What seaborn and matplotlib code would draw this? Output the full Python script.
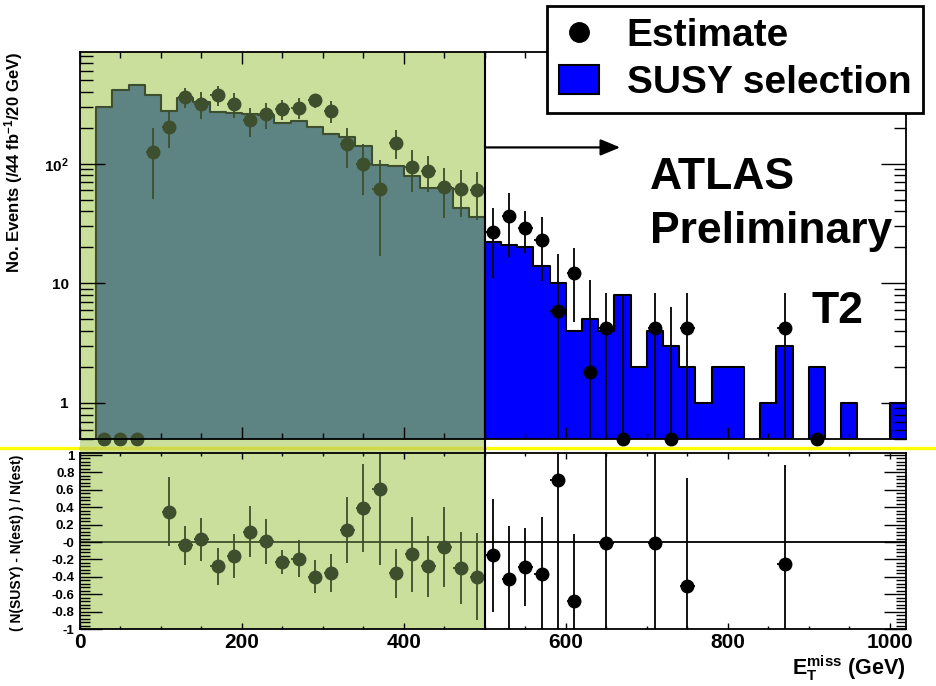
import numpy as np
import pandas as pd
import matplotlib
matplotlib.use("Agg")
import matplotlib.pyplot as plt
import seaborn as sns
from matplotlib.lines import Line2D
from matplotlib.patches import Patch, Rectangle
from matplotlib.ticker import FixedLocator, FixedFormatter, MultipleLocator, NullFormatter, LogLocator
from matplotlib.transforms import blended_transform_factory

# ---------------------------------------------------------------- data
bin_edges = np.arange(0, 1040, 20)            # E_T^miss bins, 20 GeV wide
bin_centers = bin_edges[:-1] + 10

# SUSY selection (events / 44 fb^-1 / 20 GeV)
susy_events = [0, 300, 415, 460, 376, 277, 355, 330, 269, 268,
               259, 258, 218, 228, 204, 177, 168, 141, 98, 96,
               79, 63, 63, 43, 36, 22, 21, 20, 14, 10,
               4, 5, 4, 8, 2, 4, 3, 2, 1, 2,
               2, 0, 1, 3, 0, 2, 0, 1, 0, 0, 1]

# data-driven estimate (NaN = no entry)
nan = np.nan
estimate = [nan, 0, 0, 0, 126, 204, 364, 318, 376, 316,
            232, 260, 287, 295, 339, 277, 145, 100, 62, 150,
            94, 87, 64, 62, 60, 27, 36.5, 29, 23, 5.9,
            12.3, 1.8, 4.2, 0, nan, 4.2, 0, 4.2, nan, nan,
            nan, nan, nan, 4.2, nan, 0, nan, nan, nan, nan, nan]
estimate_err = [nan, 0, 0, 0, 75, 68, 70, 80, 73, 75,
                63, 63, 55, 60, 45, 56, 53, 45, 45, 40,
                36, 29, 29, 26, 26, 16, 20, 11, 12.6, 11.6,
                7.5, 8.8, 4.1, 7.5, nan, 4.1, 5.9, 4.1, nan, nan,
                nan, nan, nan, 4.1, nan, 0, nan, nan, nan, nan, nan]

# ( N(SUSY) - N(est) ) / N(est)
ratio = [nan, nan, nan, nan, nan, 0.35, -0.04, 0.03, -0.28, -0.16,
         0.12, 0.01, -0.23, -0.19, -0.40, -0.36, 0.14, 0.39, 0.61, -0.36,
         -0.14, -0.28, -0.06, -0.30, -0.40, -0.15, -0.42, -0.29, -0.37, 0.71,
         -0.68, nan, -0.01, nan, nan, -0.01, nan, -0.51, nan, nan,
         nan, nan, nan, -0.25, nan, nan, nan, nan, nan, nan, nan]
ratio_err = [nan, nan, nan, nan, nan, 0.40, 0.22, 0.25, 0.21, 0.25,
             0.29, 0.26, 0.14, 0.21, 0.19, 0.22, 0.38, 0.51, 0.87, 0.28,
             0.43, 0.35, 0.46, 0.41, 0.50, 0.65, 0.60, 0.45, 0.66, 1.8,
             0.77, nan, 1.5, nan, nan, 1.5, nan, 1.25, nan, nan,
             nan, nan, nan, 1.14, nan, nan, nan, nan, nan, nan, nan]

x_tick_values = [0, 200, 400, 600, 800, 1000]
y_tick_values = [1, 10, 100]
y_tick_labels = ["1", "10", "$10^{2}$"]
r_tick_values = [-1, -0.8, -0.6, -0.4, -0.2, 0, 0.2, 0.4, 0.6, 0.8, 1]
r_tick_labels = ["-1", "-0.8", "-0.6", "-0.4", "-0.2", "-0", "0.2", "0.4", "0.6", "0.8", "1"]

control_edge = 500          # upper edge of the control region
arrow_y = 137
legend_labels = ["Estimate", "SUSY selection"]

# ---------------------------------------------------------------- style
sns.set_style("ticks")
plt.rcParams["font.family"] = ["Liberation Sans", "DejaVu Sans"]
plt.rcParams["font.weight"] = "bold"
plt.rcParams["axes.labelweight"] = "bold"
plt.rcParams["text.color"] = "black"
plt.rcParams["axes.labelcolor"] = "black"
plt.rcParams["xtick.color"] = "black"
plt.rcParams["ytick.color"] = "black"
plt.rcParams["axes.axisbelow"] = False
plt.rcParams["mathtext.fontset"] = "custom"
plt.rcParams["mathtext.rm"] = "Liberation Sans:bold"
plt.rcParams["mathtext.bf"] = "Liberation Sans:bold"
plt.rcParams["mathtext.it"] = "Liberation Sans:bold"
plt.rcParams["mathtext.default"] = "rm"

GREEN = "#c9df9b"
TEAL = "#5e8383"
OLIVE = "#3d4f2d"
BLUE = "#0000ff"

W, H = 936, 686
fig = plt.figure(figsize=(W / 100, H / 100), dpi=100)
fig.patch.set_facecolor("white")
ax_top = fig.add_axes([80 / W, 1 - 439 / H, 826 / W, 387 / H])
ax_bot = fig.add_axes([80 / W, 1 - 629 / H, 826 / W, 176 / H])

df = pd.DataFrame({"met": bin_centers, "susy": susy_events,
                   "est": estimate, "est_err": estimate_err,
                   "ratio": ratio, "ratio_err": ratio_err})
ctrl = df["met"] < control_edge
sig = ~ctrl
ctrl_bins = [float(b) for b in bin_edges if b <= control_edge]
sig_bins = [float(b) for b in bin_edges if b >= control_edge]

Y_MIN, Y_MAX = 0.5, 860

# ---------------------------------------------------------------- top panel
ax_top.axvspan(0, control_edge, color=GREEN, zorder=0, lw=0)
sns.histplot(data=df[ctrl], x="met", weights="susy",
             bins=ctrl_bins, element="step", fill=True,
             color=TEAL, alpha=1, edgecolor=OLIVE, linewidth=1.5, ax=ax_top, zorder=1)
sns.histplot(data=df[sig], x="met", weights="susy",
             bins=sig_bins, element="step", fill=True,
             color=BLUE, alpha=1, edgecolor="black", linewidth=1.5, ax=ax_top, zorder=1)
ax_top.set_yscale("log")


def draw_estimate(sub, color):
    sub = sub[sub["est"].notna()]
    y = np.where(sub["est"] > 0, sub["est"], Y_MIN)
    err = sub["est_err"].to_numpy()
    cont = ax_top.errorbar(sub["met"], y, yerr=err, xerr=9, fmt="o", ms=9,
                           color=color, ecolor=color, elinewidth=1.3, capsize=0, zorder=3)
    cont[0].set_clip_on(False)


draw_estimate(df[ctrl], OLIVE)
draw_estimate(df[sig], "black")

for ax in (ax_top, ax_bot):
    ax.set_axisbelow(False)

ax_top.set_xlim(0, 1020)
ax_top.set_ylim(Y_MIN, Y_MAX)
ax_top.yaxis.set_major_locator(FixedLocator(y_tick_values))
ax_top.yaxis.set_major_formatter(FixedFormatter(y_tick_labels))
ax_top.yaxis.set_minor_locator(LogLocator(base=10, subs=np.arange(2, 10)))
ax_top.yaxis.set_minor_formatter(NullFormatter())
ax_top.xaxis.set_major_locator(FixedLocator(x_tick_values))
ax_top.xaxis.set_minor_locator(MultipleLocator(50))
ax_top.tick_params(which="both", direction="in", top=True, right=True, bottom=True,
                   left=True, labelbottom=False, width=1, color="black",
                   labelcolor="black")
ax_top.tick_params(axis="x", which="major", length=8.5)
ax_top.tick_params(axis="x", which="minor", length=4.3)
ax_top.tick_params(axis="y", which="major", length=18, labelsize=11, pad=8)
ax_top.tick_params(axis="y", which="minor", length=9)
ax_top.set_xlabel("")
ax_top.set_ylabel("No. Events (/44 fb$^{-1}$/20 GeV)", fontsize=12, loc="top")
ax_top.yaxis.set_label_coords(-0.067, 1.0)
for s in ax_top.spines.values():
    s.set_linewidth(1.3)
    s.set_color("black")
    s.set_zorder(5)

ax_top.annotate("", xy=(667, arrow_y), xytext=(control_edge, arrow_y),
                arrowprops=dict(arrowstyle="-|>,head_length=0.6,head_width=0.25",
                                mutation_scale=20, lw=1.6, color="black",
                                shrinkA=0, shrinkB=0), zorder=4)
ax_top.text(0.69, 0.646, "ATLAS", transform=ax_top.transAxes, fontsize=32,
            fontweight="bold", va="baseline", ha="left", color="black")
ax_top.text(0.69, 0.506, "Preliminary", transform=ax_top.transAxes, fontsize=32,
            fontweight="bold", va="baseline", ha="left", color="black")
ax_top.text(0.886, 0.30, "T2", transform=ax_top.transAxes, fontsize=32,
            fontweight="bold", va="baseline", ha="left", color="black")

# ---------------------------------------------------------------- ratio panel
ax_bot.axvspan(0, control_edge, color=GREEN, zorder=0, lw=0)
ax_bot.hlines(0, 0, control_edge, color=OLIVE, lw=1.3, zorder=1)
ax_bot.hlines(0, control_edge, 1020, color="black", lw=1.3, zorder=1)
for sub, color in ((df[ctrl], OLIVE), (df[sig], "black")):
    sub = sub[sub["ratio"].notna()]
    ax_bot.errorbar(sub["met"], sub["ratio"], yerr=sub["ratio_err"], xerr=9,
                    fmt="o", ms=9, color=color, ecolor=color, elinewidth=1.3,
                    capsize=0, zorder=3)
ax_bot.set_xlim(0, 1020)
ax_bot.set_ylim(-1, 1.023)
ax_bot.xaxis.set_major_locator(FixedLocator(x_tick_values))
ax_bot.xaxis.set_minor_locator(MultipleLocator(50))
ax_bot.yaxis.set_major_locator(FixedLocator(r_tick_values))
ax_bot.yaxis.set_major_formatter(FixedFormatter(r_tick_labels))
ax_bot.yaxis.set_minor_locator(MultipleLocator(0.04))
ax_bot.tick_params(which="both", direction="in", top=True, right=True, bottom=True,
                   left=True, width=1, color="black", labelcolor="black")
ax_bot.tick_params(axis="x", which="major", length=4.5, labelsize=15, pad=3)
ax_bot.tick_params(axis="x", which="minor", length=2.5)
ax_bot.tick_params(axis="y", which="major", length=16, labelsize=9.5, pad=4)
ax_bot.tick_params(axis="y", which="minor", length=7.5)
ax_bot.set_ylabel("( N(SUSY) - N(est) ) / N(est)", fontsize=10)
ax_bot.yaxis.set_label_coords(-0.068, 0.49)
ax_bot.set_xlabel(r"E$_{\mathrm{T}}^{\mathrm{miss}}$ (GeV)", fontsize=15.5, loc="right")
ax_bot.xaxis.set_label_coords(1.0, -0.14)
for s in ax_bot.spines.values():
    s.set_linewidth(1.3)
    s.set_color("black")
    s.set_zorder(5)

# ---------------------------------------------------------------- shared overlay pieces
top_box = ax_top.get_position()
bot_box = ax_bot.get_position()
trans = blended_transform_factory(ax_top.transData, fig.transFigure)
fig.add_artist(Rectangle((0, bot_box.y1), control_edge, top_box.y0 - bot_box.y1,
                         transform=trans, facecolor=GREEN, edgecolor="none", zorder=-1))
y_line = 1 - 448 / H
fig.add_artist(Line2D([0, 1], [y_line, y_line], transform=fig.transFigure,
                      color="#ffff00", lw=2.4, zorder=1))
fig.add_artist(Line2D([0, control_edge], [y_line, y_line], transform=trans,
                      color="#cfd84a", lw=2.4, zorder=1.5))
fig.add_artist(Line2D([control_edge, control_edge], [bot_box.y0, top_box.y1],
                      transform=trans, color="black", lw=1.5, zorder=2))

# ---------------------------------------------------------------- legend
handles = [Line2D([], [], marker="o", ls="none", color="black", markersize=14),
           Patch(facecolor=BLUE, edgecolor="black", linewidth=1.5)]
leg = fig.legend(handles, legend_labels, loc="upper left",
                 bbox_to_anchor=(547 / W, 1 - 6 / H), bbox_transform=fig.transFigure,
                 borderaxespad=0, frameon=True, fancybox=False, edgecolor="black",
                 framealpha=1, fontsize=28, borderpad=0.3, handlelength=1.03,
                 handleheight=0.77, handletextpad=0.72, labelspacing=0.3)
leg.get_frame().set_linewidth(2)
for t in leg.get_texts():
    t.set_fontweight("bold")
    t.set_color("black")

fig.savefig("out.png", dpi=100, facecolor="white")
